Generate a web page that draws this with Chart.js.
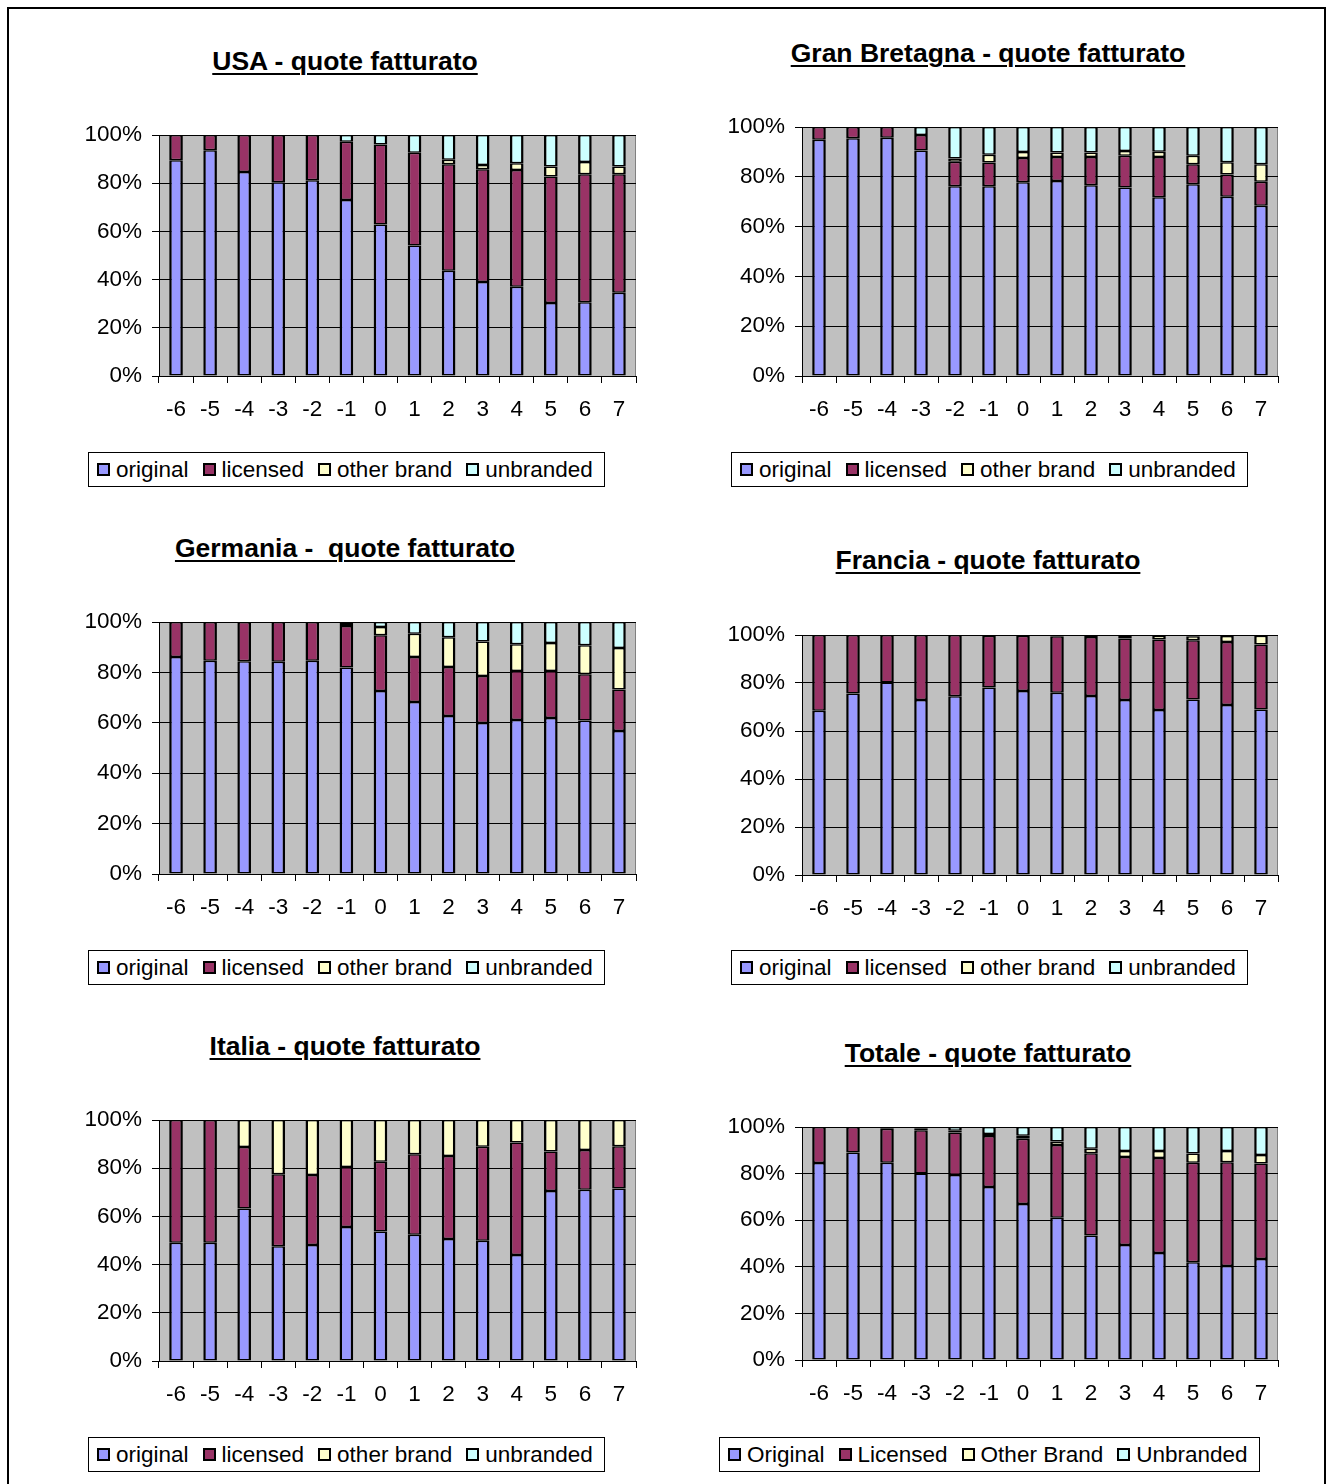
<!DOCTYPE html>
<html>
<head>
<meta charset="utf-8">
<script src="https://cdn.jsdelivr.net/npm/chart.js@4.4.1/dist/chart.umd.min.js"></script>
<style>
  html, body { margin: 0; padding: 0; background: #fff; }
  body { width: 1332px; height: 1484px; position: relative; overflow: hidden;
         font-family: "Liberation Sans", Arial, sans-serif; color: #000; }
  .frame { position: absolute; left: 7px; top: 7px; width: 1319px; height: 1500px;
           border: 2px solid #000; box-sizing: border-box; }
  .title { position: absolute; width: 600px; text-align: center; font-weight: bold;
           font-size: 26.5px; line-height: 30px; text-decoration: underline;
           text-decoration-thickness: 2px; text-underline-offset: 3px; white-space: pre; }
  .legend { position: absolute; display: flex; align-items: center; border: 1px solid #000;
            height: 35px; box-sizing: border-box; padding: 0 11px 0 8px; font-size: 22.5px;
            white-space: nowrap; background: #fff; }
  .legend .item { display: flex; align-items: center; margin-right: 14px; }
  .legend .item:last-child { margin-right: 0; }
  .legend .box { width: 9px; height: 9px; border: 2px solid #000; margin-right: 6px; }
  canvas { position: absolute; }
</style>
</head>
<body>
<div class="frame"></div>
<script>
// Periods around the reference year
const categories = ['-6', '-5', '-4', '-3', '-2', '-1', '0', '1', '2', '3', '4', '5', '6', '7'];

const seriesNames = ['original', 'licensed', 'other brand', 'unbranded'];
const seriesNamesTotal = ['Original', 'Licensed', 'Other Brand', 'Unbranded'];
const seriesColors = ['#9999FF', '#993366', '#FFFFCC', '#CCFFFF'];
const yTickStep = 20;

// USA
const usaOriginal   = [89.5, 93.7, 84.6, 80.4, 81.2, 73.0, 62.9, 54.1, 43.7, 39.0, 37.0, 30.3, 30.6, 34.5];
const usaLicensed   = [10.5, 6.3, 15.4, 19.6, 18.8, 24.2, 33.2, 38.5, 44.2, 46.8, 48.5, 52.5, 53.1, 49.2];
const usaOther      = [0, 0, 0, 0, 0, 0, 0, 0, 1.8, 1.8, 2.8, 4.1, 5.1, 3.2];
const usaUnbranded  = [0, 0, 0, 0, 0, 2.8, 3.9, 7.4, 10.3, 12.4, 11.7, 13.1, 11.2, 13.1];

// Gran Bretagna
const gbOriginal    = [94.9, 95.5, 95.7, 90.6, 76.2, 76.2, 77.8, 78.3, 76.6, 75.7, 71.8, 77.0, 72.0, 68.4];
const gbLicensed    = [5.1, 4.5, 4.3, 6.2, 9.8, 9.5, 9.8, 9.7, 11.4, 12.8, 16.2, 8.0, 8.9, 9.6];
const gbOther       = [0, 0, 0, 0, 1.3, 3.2, 2.4, 1.8, 1.8, 1.9, 2.1, 3.5, 4.9, 7.0];
const gbUnbranded   = [0, 0, 0, 3.2, 12.7, 11.1, 10.0, 10.2, 10.2, 9.6, 9.9, 11.5, 14.2, 15.0];

// Germania
const deOriginal    = [86.1, 84.6, 84.4, 84.2, 84.6, 81.9, 72.6, 68.3, 62.7, 59.9, 61.1, 61.9, 60.9, 56.7];
const deLicensed    = [13.9, 15.4, 15.6, 15.8, 15.4, 16.5, 22.1, 17.8, 19.4, 18.7, 19.5, 18.7, 18.4, 16.5];
const deOther       = [0, 0, 0, 0, 0, 0.8, 3.3, 9.2, 11.8, 13.7, 10.6, 11.1, 11.5, 16.5];
const deUnbranded   = [0, 0, 0, 0, 0, 0.8, 2.0, 4.7, 6.1, 7.7, 8.8, 8.3, 9.2, 10.3];

// Francia
const frOriginal    = [68.4, 75.6, 80.2, 72.9, 74.5, 78.1, 76.7, 75.9, 74.6, 72.9, 68.7, 73.1, 70.8, 69.0];
const frLicensed    = [31.6, 24.4, 19.8, 27.1, 25.5, 21.6, 23.0, 23.6, 24.6, 25.6, 29.4, 24.7, 26.3, 27.0];
const frOther       = [0, 0, 0, 0, 0, 0, 0, 0, 0.5, 0.7, 1.6, 1.7, 2.5, 3.7];
const frUnbranded   = [0, 0, 0, 0, 0, 0.3, 0.3, 0.5, 0.3, 0.8, 0.3, 0.5, 0.4, 0.3];

// Italia
const itOriginal    = [49.1, 49.1, 63.3, 47.6, 48.1, 55.6, 53.7, 52.4, 50.6, 49.9, 44.0, 70.5, 71.1, 71.6];
const itLicensed    = [50.9, 50.9, 25.5, 29.9, 29.1, 24.9, 29.0, 33.4, 34.5, 39.0, 46.7, 16.4, 16.5, 17.5];
const itOther       = [0, 0, 11.2, 22.5, 22.8, 19.5, 17.3, 14.2, 14.9, 11.1, 9.3, 13.1, 12.4, 10.9];
const itUnbranded   = [0, 0, 0, 0, 0, 0, 0, 0, 0, 0, 0, 0, 0, 0];

// Totale
const totOriginal   = [84.6, 89.1, 84.7, 80.0, 79.4, 74.3, 66.9, 61.0, 53.4, 49.4, 45.9, 42.0, 40.3, 43.4];
const totLicensed   = [15.4, 10.9, 14.6, 18.6, 18.2, 21.8, 28.1, 31.3, 35.3, 37.7, 40.8, 42.7, 44.6, 40.9];
const totOther      = [0, 0, 0.7, 0.7, 0.8, 0.9, 1.2, 1.5, 2.0, 2.6, 3.0, 3.9, 4.8, 3.7];
const totUnbranded  = [0, 0, 0, 0.7, 1.6, 3.0, 3.8, 6.2, 9.3, 10.3, 10.3, 11.4, 10.3, 12.0];

const panels = [
  { title: 'USA - quote fatturato',           names: seriesNames,      series: [usaOriginal, usaLicensed, usaOther, usaUnbranded] },
  { title: 'Gran Bretagna - quote fatturato', names: seriesNames,      series: [gbOriginal, gbLicensed, gbOther, gbUnbranded] },
  { title: 'Germania -  quote fatturato',     names: seriesNames,      series: [deOriginal, deLicensed, deOther, deUnbranded] },
  { title: 'Francia - quote fatturato',       names: seriesNames,      series: [frOriginal, frLicensed, frOther, frUnbranded] },
  { title: 'Italia - quote fatturato',        names: seriesNames,      series: [itOriginal, itLicensed, itOther, itUnbranded] },
  { title: 'Totale - quote fatturato',        names: seriesNamesTotal, series: [totOriginal, totLicensed, totOther, totUnbranded] }
];

// Page geometry of each panel: centre line, title position, plot box [l, t, r, b] and legend corner
const layout = [
  { cx: 345, titleY: 62,   plot: [159, 135, 636, 376],   legend: [88, 452] },
  { cx: 988, titleY: 54,   plot: [802, 127, 1278, 376],  legend: [731, 452] },
  { cx: 345, titleY: 549,  plot: [159, 622, 636, 874],   legend: [88, 950] },
  { cx: 988, titleY: 561,  plot: [802, 635, 1278, 875],  legend: [731, 950] },
  { cx: 345, titleY: 1047, plot: [159, 1120, 636, 1361], legend: [88, 1437] },
  { cx: 988, titleY: 1054, plot: [802, 1127, 1278, 1360], legend: [719, 1437] }
];

const FONT_FAMILY = '"Liberation Sans", Arial, sans-serif';
const TICK_FONT_SIZE = 22.5;
const Y_AXIS_W = 80;
const X_AXIS_H = 52;
const PAD_TOP = 28;
const PAD_RIGHT = 14;

// Grey plot area with a darker frame on the top and right edges
const plotBackground = {
  id: 'plotBackground',
  beforeDraw(chart) {
    const { ctx, chartArea: a } = chart;
    ctx.save();
    ctx.fillStyle = '#C0C0C0';
    ctx.fillRect(a.left, a.top, a.right - a.left, a.bottom - a.top);
    ctx.strokeStyle = '#808080';
    ctx.lineWidth = 1;
    ctx.beginPath();
    ctx.moveTo(a.left, a.top + 0.5);
    ctx.lineTo(a.right - 0.5, a.top + 0.5);
    ctx.lineTo(a.right - 0.5, a.bottom);
    ctx.stroke();
    ctx.restore();
  }
};

function addTitle(text, cx, cy) {
  const el = document.createElement('div');
  el.className = 'title';
  el.textContent = text;
  el.style.left = (cx - 300) + 'px';
  el.style.top = (cy - 16) + 'px';
  document.body.appendChild(el);
}

function addLegend(chart, x, y) {
  const el = document.createElement('div');
  el.className = 'legend';
  el.style.left = x + 'px';
  el.style.top = y + 'px';
  chart.data.datasets.forEach(ds => {
    const item = document.createElement('div');
    item.className = 'item';
    const box = document.createElement('span');
    box.className = 'box';
    box.style.background = ds.backgroundColor;
    const label = document.createElement('span');
    label.textContent = ds.label;
    item.appendChild(box);
    item.appendChild(label);
    el.appendChild(item);
  });
  document.body.appendChild(el);
}

panels.forEach((panel, i) => {
  const g = layout[i];
  const [pl, pt, pr, pb] = g.plot;
  const canvas = document.createElement('canvas');
  const w = (pr - pl) + Y_AXIS_W + PAD_RIGHT;
  const h = (pb - pt) + PAD_TOP + X_AXIS_H;
  canvas.width = w;
  canvas.height = h;
  canvas.style.left = (pl - Y_AXIS_W) + 'px';
  canvas.style.top = (pt - PAD_TOP) + 'px';
  canvas.style.width = w + 'px';
  canvas.style.height = h + 'px';
  document.body.appendChild(canvas);

  addTitle(panel.title, g.cx, g.titleY);

  const chart = new Chart(canvas, {
    type: 'bar',
    data: {
      labels: categories,
      datasets: panel.series.map((values, k) => ({
        label: panel.names[k],
        data: values,
        backgroundColor: seriesColors[k],
        borderColor: '#000',
        borderWidth: { left: 2.5, right: 2.5, top: 1.5, bottom: 1.5 },
        borderSkipped: false,
        barPercentage: 0.40,
        categoryPercentage: 1
      }))
    },
    options: {
      responsive: false,
      animation: false,
      devicePixelRatio: 1,
      layout: { padding: { top: PAD_TOP, right: PAD_RIGHT, left: 0, bottom: 0 } },
      plugins: {
        legend: { display: false },
        title: { display: false },
        tooltip: { enabled: false }
      },
      scales: {
        x: {
          stacked: true,
          offset: true,
          grid: { offset: true, drawOnChartArea: false, drawTicks: true, tickLength: 7, color: '#000', lineWidth: 1 },
          border: { color: '#000', width: 1 },
          ticks: { color: '#000', font: { family: FONT_FAMILY, size: TICK_FONT_SIZE }, padding: 13.5, maxRotation: 0, autoSkip: false },
          afterFit(scale) { scale.height = X_AXIS_H; }
        },
        y: {
          stacked: true,
          min: 0,
          max: 100,
          grid: { color: '#000', lineWidth: 1, tickLength: 7 },
          border: { color: '#000', width: 1 },
          ticks: {
            stepSize: yTickStep,
            color: '#000',
            font: { family: FONT_FAMILY, size: TICK_FONT_SIZE },
            padding: 10,
            callback: v => v + '%'
          },
          afterFit(scale) { scale.width = Y_AXIS_W; }
        }
      }
    },
    plugins: [plotBackground]
  });

  addLegend(chart, g.legend[0], g.legend[1]);
});
</script>
</body>
</html>
